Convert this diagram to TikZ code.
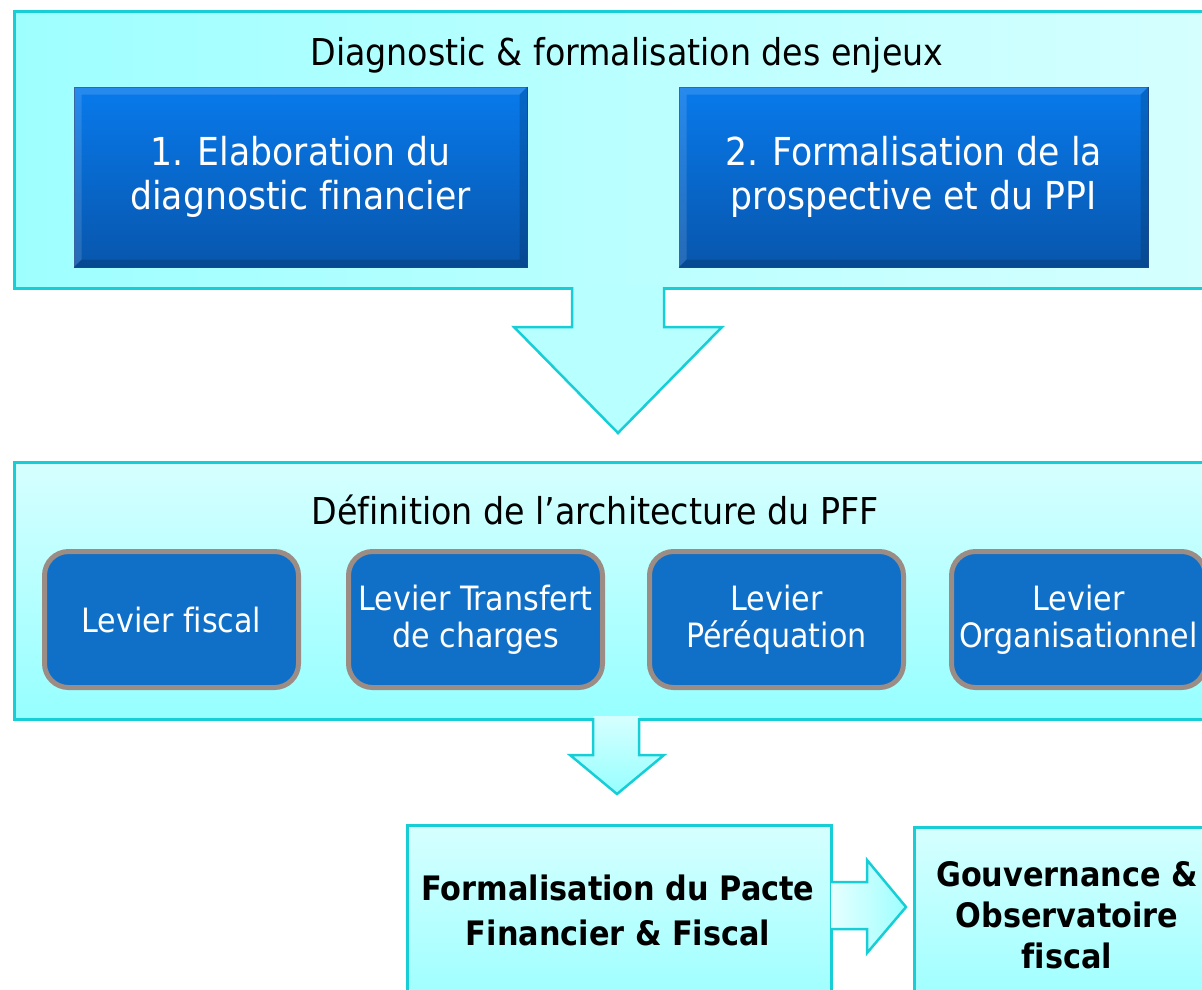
\documentclass[tikz,border=0pt]{standalone}
\usepackage{fontspec}
\setmainfont{DejaVu Sans Condensed}[Ligatures=NoCommon]
\usetikzlibrary{calc}
\definecolor{bord}{RGB}{24,206,214}
\definecolor{cyanA}{RGB}{158,255,255}
\definecolor{cyanB}{RGB}{214,255,255}
\definecolor{cyanC}{RGB}{184,255,255}
\definecolor{cyanD}{RGB}{150,255,255}
\definecolor{blueT}{RGB}{8,122,236}
\definecolor{blueB}{RGB}{8,86,172}
\definecolor{blueE}{RGB}{30,80,150}
\definecolor{levfill}{RGB}{16,111,198}
\definecolor{levbord}{RGB}{155,140,133}
\tikzset{
  panel/.style={draw=bord, line width=2.5pt, rectangle, inner sep=0pt},
  bluebox/.style={draw=blueE, line width=1pt, top color=blueT, bottom color=blueB,
    text=white, align=center, inner sep=0pt,
    font=\fontsize{38.5}{44}\selectfont},
  lever/.style={draw=levbord, line width=5pt, fill=levfill, rounded corners=24pt,
    minimum width=254pt, minimum height=136pt, text=white, align=center, inner sep=0pt,
    font=\fontsize{33.5}{37}\selectfont},
  title/.style={font=\fontsize{37}{44}\selectfont, inner sep=0pt},
  bold/.style={font=\bfseries\fontsize{33.7}{45}\selectfont, align=center, inner sep=0pt},
  barrow/.style={draw=bord, line width=2.5pt, line join=miter},
  bevlight/.style={fill=white, fill opacity=0.12},
  bevdark/.style={fill=black, fill opacity=0.15}
}
\newcommand{\bevelbox}[1]{%
  \fill[bevlight] (#1.north west) -- (#1.north east) -- ($(#1.north east)+(-8,8)$) -- ($(#1.north west)+(8,8)$) -- cycle;
  \fill[bevlight] (#1.north west) -- ($(#1.north west)+(8,8)$) -- ($(#1.south west)+(8,-8)$) -- (#1.south west) -- cycle;
  \fill[bevdark] (#1.south west) -- (#1.south east) -- ($(#1.south east)+(-8,-8)$) -- ($(#1.south west)+(8,-8)$) -- cycle;
  \fill[bevdark] (#1.north east) -- ($(#1.north east)+(-8,8)$) -- ($(#1.south east)+(-8,-8)$) -- (#1.south east) -- cycle;
}
\begin{document}
\begin{tikzpicture}[x=1pt,y=-1pt]
\clip (0,0) rectangle (1202,989);
\fill[white] (0,0) rectangle (1202,989);
% top panel
\node[panel, minimum width=1202pt, minimum height=277pt, left color=cyanA, right color=cyanB, anchor=north west] (top) at (13,10) {};
\node[title] (toptitle) at (627,55) {Diagnostic \& formalisation des enjeux};
\node[bluebox, minimum width=453pt, minimum height=180pt] (b1) at (300.5,177) {1. Elaboration du\\diagnostic financier};
\node[bluebox, minimum width=469pt, minimum height=180pt] (b2) at (913.5,177) {2. Formalisation de la\\prospective et du PPI};
\bevelbox{b1}
\bevelbox{b2}
% arrow 1
\fill[cyanC] (572,285) -- (572,327) -- (514,327) -- (618,433) -- (722,327) -- (664,327) -- (664,285) -- cycle;
\draw[barrow] (572,287) -- (572,327) -- (514,327) -- (618,433) -- (722,327) -- (664,327) -- (664,287);
% middle panel
\node[panel, minimum width=1202pt, minimum height=257pt, top color=cyanB, bottom color=cyanD, anchor=north west] (mid) at (13,461) {};
\node[title] (midtitle) at (595,510) {Définition de l’architecture du PFF};
\node[lever] (l1) at (171.5,619.5) {Levier fiscal};
\node[lever] (l2) at (475.5,619.5) {Levier Transfert\\de charges};
\node[lever] (l3) at (776.5,619.5) {Levier\\Péréquation};
\node[lever] (l4) at (1078.5,619.5) {Levier\\Organisationnel};
% arrow 2
\shade[top color=cyanB, bottom color=cyanD] (593,716) -- (593,755) -- (570,755) -- (617,794) -- (664,755) -- (639,755) -- (639,716) -- cycle;
\draw[barrow] (593,718) -- (593,755) -- (570,755) -- (617,794) -- (664,755) -- (639,755) -- (639,718);
% bottom boxes
\node[panel, minimum width=424pt, minimum height=200pt, top color=cyanB, bottom color=cyanD, anchor=north west] (p1) at (406,824) {};
\node[bold] (p1t) at (618,910) {Formalisation du Pacte\\Financier \& Fiscal};
\node[panel, minimum width=310pt, minimum height=200pt, top color=cyanB, bottom color=cyanD, anchor=north west] (p2) at (913,826) {};
\node[bold, font=\bfseries\fontsize{33.7}{41}\selectfont] (p2t) at (1067,915) {Gouvernance \&\\Observatoire\\fiscal};
% arrow 3
\shade[left color=cyanB!60!white, right color=cyanA] (831,882) -- (867,882) -- (867,860) -- (906,907) -- (867,953) -- (867,929) -- (831,929) -- cycle;
\draw[barrow] (830,882) -- (867,882) -- (867,860) -- (906,907) -- (867,953) -- (867,929) -- (830,929);
\end{tikzpicture}
\end{document}
